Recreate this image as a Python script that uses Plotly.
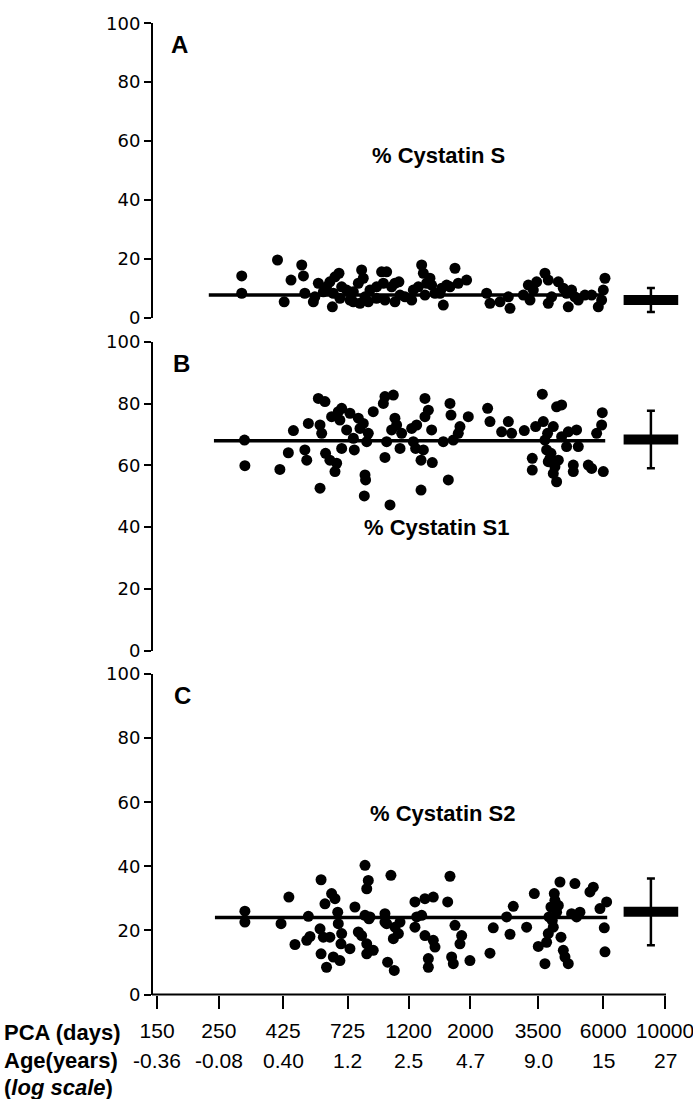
import math
import plotly.graph_objects as go

# ---------------- data ----------------
pca_ticks = [150, 250, 425, 725, 1200, 2000, 3500, 6000, 10000]
pca_tick_labels = ["150", "250", "425", "725", "1200", "2000", "3500", "6000", "10000"]
age_tick_labels = ["-0.36", "-0.08", "0.40", "1.2", "2.5", "4.7", "9.0", "15", "27"]
y_ticks = [0, 20, 40, 60, 80, 100]

# Panel A: % Cystatin S
a_days = [302, 302, 406, 429, 454, 496, 503, 509, 546, 569, 593, 609, 626, 644, 653, 675, 639, 680,
          719, 739, 760, 792, 814, 825, 803, 860, 872, 921, 960, 1001, 974, 987, 1043, 1072, 1108,
          1118, 1231, 1248, 1301, 1337, 1356, 1374, 1393, 1452, 1493, 1578, 1599, 1644, 1690, 1761,
          1810, 1939, 2288, 2352, 2555, 2738, 2776, 3099, 3230, 3366, 3460, 3706, 3809, 3917, 3809,
          4139, 4313, 4432, 4494, 4748, 4882, 5159, 5452, 5760, 6004, 6088, 5922, 553, 690, 837,
          1165, 1072, 1432, 1556, 3275, 4619, 760, 921]
a_pct = [14.2, 8.3, 19.6, 5.4, 12.8, 17.9, 14.2, 8.3, 5.4, 11.7, 8.8, 10.5, 12.2, 8.3, 13.9, 15.1, 3.7,
         6.6, 9.4, 6.0, 8.8, 11.7, 16.2, 13.4, 4.9, 5.4, 9.4, 10.5, 15.6, 15.6, 11.7, 6.0, 10.5, 5.4,
         12.2, 7.7, 6.0, 9.4, 10.5, 17.9, 15.1, 7.7, 11.7, 11.1, 8.3, 10.0, 4.3, 11.1, 10.5, 16.8,
         11.7, 12.8, 8.3, 4.9, 5.4, 7.1, 3.2, 7.7, 11.1, 9.4, 12.2, 15.1, 12.8, 7.1, 4.9, 12.2, 10.0,
         8.3, 3.7, 7.1, 6.0, 7.7, 7.7, 3.7, 9.4, 13.4, 6.0, 7.1, 10.5, 7.1, 7.1, 11.7, 13.4, 8.3,
         6.0, 9.4, 5.4, 6.6]

# Panel B: % Cystatin S1
b_days = [309, 310, 414, 444, 463, 509, 517, 524, 569, 577, 577, 601, 604, 585, 626, 635, 653, 662,
          671, 680, 690, 690, 719, 739, 760, 766, 792, 803, 825, 837, 841, 832, 849, 860, 896, 974,
          987, 1001, 987, 1029, 1043, 1058, 1072, 1087, 1118, 1133, 1231, 1248, 1272, 1283, 1330,
          1330, 1356, 1374, 1374, 1413, 1452, 1460, 1599, 1667, 1690, 1704, 1737, 1810, 1835, 1966,
          2307, 2352, 2590, 2738, 2814, 3124, 3337, 3337, 3431, 3626, 3655, 3706, 3757, 3809, 3864,
          3970, 4024, 4081, 3970, 4081, 4139, 4254, 4254, 4432, 4494, 4685, 4685, 4814, 4882, 5303,
          5452, 5682, 5922, 6004, 5953, 3895, 3788]
b_pct = [68.2, 59.9, 58.7, 64.1, 71.3, 65.0, 61.7, 73.6, 81.7, 52.6, 73.1, 80.7, 63.9, 70.4, 61.7,
         75.8, 58.0, 60.7, 77.4, 74.7, 65.5, 78.5, 71.5, 76.9, 68.8, 65.0, 75.3, 72.0, 73.6, 56.9,
         55.3, 50.1, 67.7, 70.4, 77.4, 80.1, 82.3, 67.7, 62.6, 47.2, 71.5, 82.8, 75.3, 73.1, 65.5,
         70.4, 72.0, 67.7, 65.5, 73.1, 52.0, 61.7, 65.0, 81.7, 75.8, 77.9, 71.5, 60.9, 67.7, 55.3,
         80.1, 76.3, 68.2, 70.4, 72.6, 75.8, 78.5, 74.2, 70.9, 74.2, 70.4, 71.3, 62.3, 58.5, 72.6,
         83.1, 74.2, 68.2, 65.0, 61.2, 62.3, 57.4, 59.6, 54.7, 72.6, 79.0, 61.7, 79.6, 69.3, 66.1,
         70.9, 60.1, 58.0, 71.5, 66.1, 60.1, 59.0, 70.4, 73.1, 58.0, 77.1, 63.9, 70.4]

# Panel C: % Cystatin S2
c_days = [310, 310, 418, 446, 469, 517, 524, 531, 582, 577, 582, 593, 609, 601, 626, 635, 644, 653,
          668, 671, 680, 686, 690, 739, 770, 792, 814, 837, 860, 849, 837, 849, 849, 896, 872, 987,
          1001, 1009, 1037, 1058, 1066, 1072, 1103, 1118, 1265, 1265, 1283, 1337, 1374, 1374, 1413,
          1413, 1472, 1472, 1493, 1658, 1690, 1713, 1737, 1761, 1835, 1861, 1993, 2352, 2417, 2699,
          2776, 2852, 3185, 3394, 3507, 3706, 3757, 3809, 3895, 3938, 4003, 4024, 4081, 4139, 4196,
          4231, 4313, 4373, 4494, 4619, 4748, 4814, 4950, 5376, 5527, 5840, 6172, 6053, 6088, 3970,
          3831, 865, 987]
c_pct = [26.0, 22.6, 22.1, 30.4, 15.6, 16.9, 24.4, 18.1, 35.8, 20.5, 12.7, 17.9, 8.5, 28.3, 17.9,
         31.5, 11.7, 29.9, 25.7, 22.1, 10.6, 15.8, 19.0, 14.3, 27.3, 19.5, 18.4, 40.3, 35.6, 33.0,
         24.7, 15.8, 12.7, 13.8, 24.2, 25.2, 22.1, 10.1, 37.2, 17.4, 7.5, 21.0, 19.0, 22.6, 28.9,
         21.0, 24.2, 24.7, 29.9, 18.4, 8.5, 11.2, 30.4, 16.9, 14.8, 28.9, 36.9, 11.7, 9.6, 21.6,
         15.8, 18.4, 10.6, 12.9, 20.8, 24.2, 18.8, 27.5, 21.0, 31.5, 15.0, 9.6, 16.3, 19.0, 27.3,
         23.1, 31.5, 29.4, 25.7, 27.8, 35.1, 17.9, 13.8, 11.7, 9.6, 25.2, 34.6, 24.2, 25.7, 32.0,
         33.5, 26.8, 28.9, 20.8, 13.3, 21.0, 24.2, 23.6, 22.6]

# fitted (mean) lines: [start, end] days and level
line_days = {"A": [230, 6000], "B": [240, 6100], "C": [242, 6200]}
line_level = {"A": 7.7, "B": 68.0, "C": 24.0}

# summary (mean +/- SD) shown at the right
summary_day = 8900
summary_mean = {"A": 6.0, "B": 68.4, "C": 25.8}
summary_sd = {"A": 4.1, "B": 9.3, "C": 10.4}

panel_titles = {"A": "% Cystatin S", "B": "% Cystatin S1", "C": "% Cystatin S2"}

# ---------------- layout helpers ----------------
W, H = 693, 1099
def px_x(p):
    return p / W
def px_y(p):
    return 1 - p / H

panels = {
    "A": dict(top=23.3, bottom=317.7, x="x2", y="y2", xa="xaxis2", ya="yaxis2"),
    "B": dict(top=342.0, bottom=650.5, x="x3", y="y3", xa="xaxis3", ya="yaxis3"),
    "C": dict(top=674.0, bottom=994.5, x="x", y="y", xa="xaxis", ya="yaxis"),
}
data = {"A": (a_days, a_pct), "B": (b_days, b_pct), "C": (c_days, c_pct)}

AX_L, AX_R = 153, 665          # pixel span of the drawn x-axis (145 .. 10000 days)
x_lo, x_hi = math.log10(145), math.log10(10000)
px_per_dec = (AX_R - AX_L) / (x_hi - x_lo)
x_dom = [px_x(AX_L), 1.0]
x_range = [x_lo, x_lo + (W - AX_L) / px_per_dec]

fig = go.Figure()

for key, p in panels.items():
    d, v = data[key]
    fig.add_trace(go.Scatter(x=d, y=v, mode="markers", xaxis=p["x"], yaxis=p["y"],
                             marker=dict(color="black", size=11, line=dict(width=0)),
                             showlegend=False, hoverinfo="skip"))
    fig.add_trace(go.Scatter(x=line_days[key], y=[line_level[key]] * 2, mode="lines",
                             xaxis=p["x"], yaxis=p["y"], line=dict(color="black", width=3.5),
                             showlegend=False, hoverinfo="skip"))
    fig.add_trace(go.Scatter(x=[summary_day], y=[summary_mean[key]], mode="markers",
                             xaxis=p["x"], yaxis=p["y"], cliponaxis=False,
                             marker=dict(symbol="line-ew", size=39, color="black",
                                         line=dict(color="black", width=10)),
                             error_y=dict(type="data", array=[summary_sd[key]], color="black",
                                          thickness=2.5, width=4),
                             showlegend=False, hoverinfo="skip"))

layout = dict(width=W, height=H, margin=dict(l=0, r=0, t=0, b=0, autoexpand=False),
              template="none",
              plot_bgcolor="white", paper_bgcolor="white", showlegend=False)

yfont = dict(family="DejaVu Sans, Verdana, sans-serif", size=18, color="black")
for key, p in panels.items():
    layout[p["ya"]] = dict(domain=[px_y(p["bottom"]), px_y(p["top"])], range=[0, 100],
                           anchor=p["x"], tickvals=y_ticks, ticks="outside", ticklen=7,
                           tickwidth=2, tickcolor="black", showline=True, linewidth=2,
                           linecolor="black", showgrid=False, zeroline=False, tickfont=yfont,
                           automargin=False)
    if key == "C":
        layout[p["xa"]] = dict(domain=x_dom, type="log", range=x_range, anchor=p["y"],
                               tickvals=pca_ticks, ticktext=pca_tick_labels, ticks="outside",
                               ticklen=13, tickwidth=2, tickcolor="black", showline=False,
                               showgrid=False, zeroline=False, ticklabeloverflow="allow",
                               automargin=False, ticklabelstandoff=4,
                               tickfont=dict(family="Liberation Sans Narrow, Arial Narrow, Liberation Sans, Arial",
                                             size=21, color="black"))
    else:
        layout[p["xa"]] = dict(domain=x_dom, type="log", range=x_range, anchor=p["y"],
                               visible=False, showgrid=False, zeroline=False, automargin=False)

fig.update_layout(**layout)

# drawn x-axis line of the bottom panel (ends at the 10000 tick)
yb = px_y(panels["C"]["bottom"])
fig.add_shape(type="line", xref="paper", yref="paper", x0=px_x(AX_L - 1), x1=px_x(AX_R + 1),
              y0=yb, y1=yb, line=dict(color="black", width=2), layer="above")

letter_pos = {"A": (179, 44), "B": (181, 363), "C": (182, 695)}
title_pos = {"A": (438, 156), "B": (437, 527), "C": (443, 813)}
bold = dict(family="Liberation Sans, Arial, sans-serif", color="black")

for key in panels:
    lx, ly = letter_pos[key]
    fig.add_annotation(x=px_x(lx), y=px_y(ly), xref="paper", yref="paper", text="<b>%s</b>" % key,
                       showarrow=False, xanchor="center", yanchor="middle",
                       font=dict(size=24, **bold))
    tx, ty = title_pos[key]
    fig.add_annotation(x=px_x(tx), y=px_y(ty), xref="paper", yref="paper",
                       text="<b>%s</b>" % panel_titles[key], showarrow=False,
                       xanchor="center", yanchor="middle", font=dict(size=22, **bold))

# Age row aligned under the PCA ticks
for v, lab in zip(pca_ticks, age_tick_labels):
    fig.add_annotation(x=math.log10(v), y=px_y(1060), xref="x", yref="paper", text=lab,
                       showarrow=False, xanchor="center", yanchor="middle",
                       font=dict(family="Liberation Sans Narrow, Arial Narrow, Liberation Sans, Arial",
                                 size=21, color="black"))

left_labels = [("<b>PCA (days)</b>", 1032), ("<b>Age(years)</b>", 1060),
               ("<b>(<i>log scale</i>)</b>", 1087)]
for txt, yy in left_labels:
    fig.add_annotation(x=px_x(2), y=px_y(yy), xref="paper", yref="paper", text=txt,
                       showarrow=False, xanchor="left", yanchor="middle",
                       font=dict(size=22, **bold))

fig.write_html("out.html")
